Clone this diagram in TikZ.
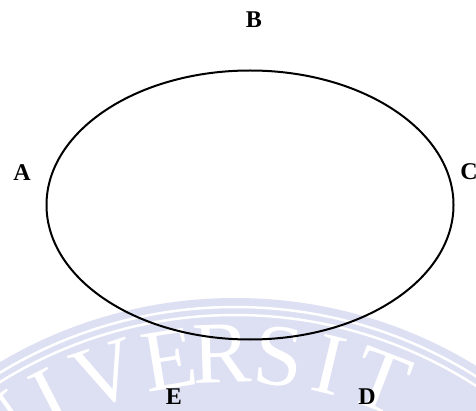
\documentclass[tikz,border=0pt]{standalone}
\usepackage{fontspec}
\setmainfont{Liberation Serif}
\usetikzlibrary{calc,shapes.geometric}
\definecolor{wmblue}{RGB}{221,223,243}
\begin{document}
\begin{tikzpicture}[x=1pt,y=-1pt,
  wmletter/.style={text=white,inner sep=0pt,font=\fontsize{88}{88}\selectfont},
  lbl/.style={inner sep=0pt,font=\bfseries\fontsize{24}{24}\selectfont},
  curve/.style={line width=2pt,draw=black}]
\useasboundingbox[fill=white] (0,0) rectangle (476,411);
% watermark
\begin{scope}
  \clip (0,0) rectangle (476,411);
  \coordinate (wmc) at (235,760);
  \fill[wmblue] (wmc) circle[radius=462];
  \draw[white,line width=2.5pt] (wmc) circle[radius=453];
  \draw[white,line width=2.5pt] (wmc) circle[radius=445];
  \foreach \l/\a [count=\i] in {U/-44,N/-35.5,I/-27,V/-18.5,E/-9.3,R/-1.8,S/6.2,I/13.5,T/21}
    \node[wmletter,rotate=-\a] (wm\i) at ($(wmc)+({406*sin(\a)},{-406*cos(\a)})$) {\l};
\end{scope}
% ellipse
\node[ellipse,curve,inner sep=0pt,minimum width=407pt,minimum height=269pt] (ell) at (250,205) {};
% labels
\node[lbl] (A) at (22,173) {A};
\node[lbl] (B) at (254,20) {B};
\node[lbl] (C) at (469,172) {C};
\node[lbl] (D) at (367,397) {D};
\node[lbl] (E) at (174,397) {E};
\end{tikzpicture}
\end{document}
